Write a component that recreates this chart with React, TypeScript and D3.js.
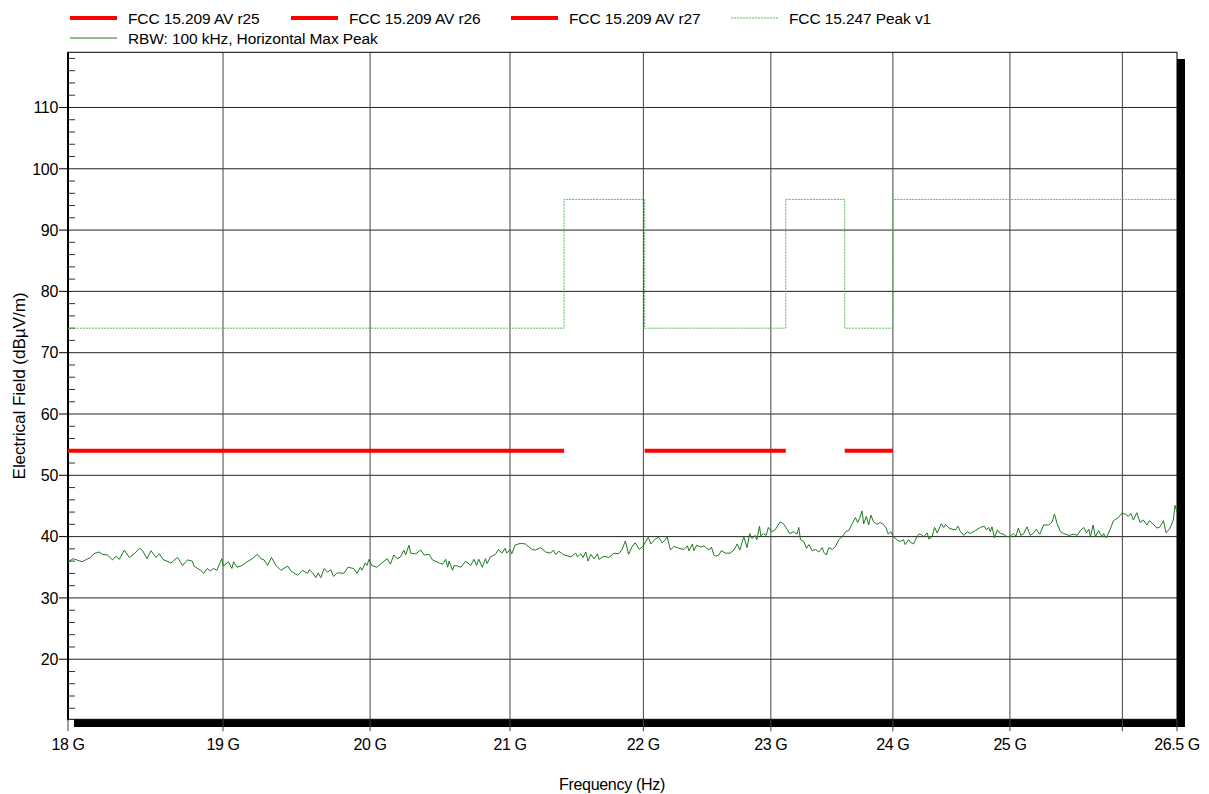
import React from "react";
import * as d3 from "d3";

// ---- Data ----
const traceFreqGHz = [
  18.002, 18.032, 18.088, 18.142, 18.163, 18.195, 18.217, 18.25, 18.282, 18.303, 18.325, 18.357, 18.389, 18.421, 18.454, 18.475, 18.503, 18.529, 18.561, 18.583, 18.605, 18.658, 18.701, 18.734, 18.766, 18.798, 18.808, 18.852, 18.873, 18.895, 18.916, 18.937, 18.959, 18.992,
  19.002, 19.036, 19.059, 19.07, 19.093, 19.127, 19.161, 19.195, 19.229, 19.252, 19.274, 19.297, 19.324, 19.354, 19.387, 19.433, 19.455, 19.501, 19.535, 19.569, 19.58, 19.603, 19.625, 19.641, 19.659, 19.682, 19.705, 19.728, 19.746, 19.773, 19.818, 19.846, 19.886, 19.909, 19.932, 19.943, 19.966, 19.978, 19.993,
  20.011, 20.047, 20.083, 20.119, 20.142, 20.166, 20.19, 20.214, 20.237, 20.249, 20.273, 20.285, 20.321, 20.357, 20.38, 20.416, 20.44, 20.488, 20.512, 20.535, 20.548, 20.559, 20.583, 20.595, 20.619, 20.643, 20.678, 20.714, 20.738, 20.757, 20.773, 20.798, 20.821, 20.833, 20.857, 20.893, 20.916, 20.941, 20.964, 20.976,
  21.0, 21.013, 21.037, 21.075, 21.112, 21.163, 21.187, 21.225, 21.262, 21.3, 21.32, 21.337, 21.362, 21.4, 21.45, 21.487, 21.5, 21.525, 21.542, 21.562, 21.58, 21.6, 21.625, 21.65, 21.662, 21.7, 21.737, 21.775, 21.812, 21.837, 21.862, 21.887, 21.912, 21.937, 21.969, 21.999,
  22.038, 22.057, 22.091, 22.117, 22.144, 22.169, 22.183, 22.209, 22.235, 22.274, 22.313, 22.34, 22.352, 22.379, 22.391, 22.413, 22.444, 22.47, 22.509, 22.528, 22.548, 22.562, 22.587, 22.606, 22.64, 22.674, 22.705, 22.732, 22.752, 22.784, 22.81, 22.831, 22.849, 22.875, 22.888, 22.909, 22.92, 22.94, 22.962, 22.98,
  23.007, 23.034, 23.075, 23.102, 23.13, 23.151, 23.184, 23.211, 23.225, 23.239, 23.266, 23.288, 23.307, 23.334, 23.361, 23.389, 23.416, 23.43, 23.449, 23.47, 23.498, 23.525, 23.552, 23.58, 23.607, 23.634, 23.662, 23.689, 23.707, 23.724, 23.743, 23.757, 23.779, 23.798, 23.817, 23.839, 23.867, 23.894, 23.921, 23.943, 23.962, 23.982,
  24.003, 24.032, 24.061, 24.089, 24.103, 24.132, 24.146, 24.174, 24.203, 24.217, 24.231, 24.26, 24.289, 24.303, 24.331, 24.351, 24.374, 24.408, 24.43, 24.445, 24.473, 24.502, 24.53, 24.55, 24.573, 24.601, 24.63, 24.658, 24.701, 24.744, 24.778, 24.795, 24.815, 24.829, 24.844, 24.866, 24.892, 24.915, 24.943, 24.972,
  25.0, 25.029, 25.053, 25.074, 25.095, 25.118, 25.149, 25.178, 25.207, 25.231, 25.261, 25.296, 25.341, 25.371, 25.391, 25.415, 25.445, 25.474, 25.519, 25.563, 25.593, 25.623, 25.652, 25.676, 25.697, 25.712, 25.736, 25.756, 25.786, 25.816, 25.83, 25.854, 25.89, 25.919, 25.964, 25.994,
  26.024, 26.054, 26.076, 26.1, 26.131, 26.161, 26.191, 26.223, 26.246, 26.277, 26.314, 26.338, 26.36, 26.375, 26.399, 26.436, 26.466, 26.482, 26.5,
];
const traceLevel = [
  35.9, 36.4, 35.9, 36.6, 37.2, 37.5, 37.1, 37.0, 36.2, 36.8, 36.3, 37.8, 36.6, 37.2, 38.1, 37.7, 36.4, 37.7, 36.6, 37.2, 36.3, 35.7, 36.6, 35.3, 36.2, 36.0, 35.2, 34.5, 34.0, 34.8, 34.4, 34.8, 34.5, 36.4,
  35.2, 35.9, 34.8, 35.9, 35.0, 35.3, 35.9, 36.4, 37.1, 36.4, 36.2, 35.3, 36.6, 35.3, 34.5, 35.2, 34.4, 33.7, 34.5, 34.0, 34.6, 34.1, 33.3, 34.1, 33.3, 34.8, 34.2, 34.6, 33.5, 34.1, 34.0, 35.0, 34.8, 34.0, 35.0, 34.5, 35.7, 35.3, 36.3,
  35.3, 35.0, 35.7, 36.4, 35.5, 37.0, 36.4, 36.7, 37.8, 37.0, 38.6, 37.3, 37.2, 37.8, 37.0, 37.1, 36.2, 35.7, 35.5, 36.3, 35.0, 36.0, 34.5, 35.3, 35.2, 35.0, 36.0, 35.3, 36.3, 35.3, 36.3, 35.0, 36.4, 35.6, 36.7, 37.1, 37.9, 37.3, 38.1, 37.3,
  37.9, 37.2, 38.6, 38.9, 38.8, 37.9, 37.8, 38.2, 37.5, 37.3, 37.8, 37.1, 37.6, 37.0, 36.7, 37.3, 36.7, 37.2, 36.6, 37.5, 36.0, 37.1, 36.4, 37.2, 36.3, 36.8, 36.6, 37.3, 37.2, 37.9, 39.3, 37.1, 38.3, 39.0, 37.9, 38.5,
  39.9, 38.8, 39.6, 39.9, 39.0, 39.5, 40.0, 37.8, 38.4, 38.1, 37.9, 38.5, 37.7, 38.8, 37.7, 38.6, 38.3, 38.5, 37.8, 38.3, 37.0, 36.8, 37.0, 37.7, 37.3, 37.3, 37.8, 38.8, 37.8, 40.0, 38.2, 40.5, 39.7, 40.2, 39.5, 41.7, 40.1, 40.5, 40.2, 41.5,
  40.8, 41.1, 42.4, 42.1, 41.2, 40.5, 40.8, 40.4, 41.5, 39.5, 39.2, 38.1, 38.7, 37.7, 37.9, 37.5, 38.2, 37.4, 37.0, 38.2, 37.9, 38.4, 39.5, 40.0, 40.8, 41.0, 42.1, 43.1, 42.3, 43.0, 44.2, 42.1, 43.3, 41.9, 43.5, 42.4, 42.0, 42.3, 42.0, 41.4, 40.4, 40.8,
  40.0, 39.5, 39.2, 39.5, 38.7, 39.5, 39.1, 38.8, 40.0, 40.4, 40.4, 40.0, 40.6, 39.6, 40.0, 41.5, 40.6, 42.1, 41.5, 42.0, 41.4, 41.2, 41.1, 41.7, 40.8, 40.2, 40.8, 40.5, 41.0, 41.5, 41.7, 41.1, 41.5, 40.8, 41.6, 39.8, 41.1, 40.5, 40.4, 40.0,
  40.0, 40.5, 40.1, 41.4, 40.2, 40.4, 41.6, 40.2, 40.6, 41.2, 40.4, 41.9, 41.9, 42.4, 43.7, 42.1, 40.8, 40.5, 40.2, 40.4, 40.2, 41.0, 41.5, 40.6, 41.2, 40.0, 41.9, 40.0, 41.0, 39.9, 40.5, 39.8, 41.2, 42.6, 43.1, 43.8,
  43.7, 43.3, 43.8, 42.7, 43.9, 42.3, 42.7, 41.9, 42.6, 42.1, 41.4, 41.5, 42.1, 42.6, 40.6, 41.4, 42.7, 45.1, 44.0,
];

// FCC 15.209 AV limit segments (GHz, dBµV/m)
const avR25Freq = [18, 21.4];
const avR26Freq = [22.01, 23.12];
const avR27Freq = [23.6, 24.0];
const avLimitLevel = 54;

// FCC 15.247 Peak limit (step after)
const peakFreq = [18, 21.4, 22.01, 23.12, 23.6, 24.0, 26.5];
const peakLevel = [74, 95, 74, 95, 74, 95, 95];

const xTickValues = [18, 19, 20, 21, 22, 23, 24, 25, 26, 26.5];
const xTickLabels = ["18 G", "19 G", "20 G", "21 G", "22 G", "23 G", "24 G", "25 G", "", "26.5 G"];
const yTickValues = [20, 30, 40, 50, 60, 70, 80, 90, 100, 110];

const legendLabels = [
  "FCC 15.209 AV r25",
  "FCC 15.209 AV r26",
  "FCC 15.209 AV r27",
  "FCC 15.247 Peak v1",
  "RBW: 100 kHz, Horizontal Max Peak",
];

// ---- Layout ----
const W = 1209;
const H = 794;
const X0 = 68;
const X1 = 1177;
const Y0 = 52.3;
const Y1 = 719.3;
const FONT = "Arial, 'Liberation Sans', Helvetica, sans-serif";
const RED = "#ff0000";
const TRACE = "#1f7a1f";
const PEAK = "#5cbc5c";

export default function App() {
  const x = d3.scaleLog().domain([18, 26.5]).range([X0, X1]);
  const y = d3.scaleLinear().domain([10.2, 119]).range([Y1, Y0]);

  const tracePts: [number, number][] = traceFreqGHz.map((f, i) => [f, traceLevel[i]]);
  const line = d3
    .line<[number, number]>()
    .x((d) => x(d[0]))
    .y((d) => y(d[1]));
  const stepLine = d3
    .line<[number, number]>()
    .x((d) => x(d[0]))
    .y((d) => y(d[1]))
    .curve(d3.curveStepAfter);
  const peakPts: [number, number][] = peakFreq.map((f, i) => [f, peakLevel[i]]);
  const avSegs = [avR25Freq, avR26Freq, avR27Freq].map(
    (s) => s.map((f) => [f, avLimitLevel]) as [number, number][]
  );
  const minorTicks = d3.range(12, 119, 2).filter((v) => v % 10 !== 0);

  const legendItems = [
    { x: 70, y: 18, color: RED, w: 4, dash: undefined, label: legendLabels[0] },
    { x: 291, y: 18, color: RED, w: 4, dash: undefined, label: legendLabels[1] },
    { x: 511, y: 18, color: RED, w: 4, dash: undefined, label: legendLabels[2] },
    { x: 731, y: 18, color: PEAK, w: 1, dash: "2,1", label: legendLabels[3] },
    { x: 70, y: 38, color: TRACE, w: 1, dash: undefined, label: legendLabels[4] },
  ];

  return (
    <svg
      width={W}
      height={H}
      style={{ position: "absolute", left: 0, top: 0, background: "#fff" }}
      fontFamily={FONT}
    >
      <defs>
        <clipPath id="plotClip">
          <rect x={X0} y={Y0} width={X1 - X0} height={Y1 - Y0} />
        </clipPath>
      </defs>
      {/* legend */}
      {legendItems.map((d, i) => (
        <g key={i}>
          <line
            x1={d.x}
            x2={d.x + 47}
            y1={d.y}
            y2={d.y}
            stroke={d.color}
            strokeWidth={d.w}
            strokeDasharray={d.dash}
          />
          <text x={d.x + 58} y={d.y + 5.5} fontSize={15.5} fill="#000" letterSpacing={-0.1}>
            {d.label}
          </text>
        </g>
      ))}

      {/* shadow and frame */}
      <rect x={74} y={59} width={1185 - 74} height={727 - 59} fill="#000" />
      <rect x={X0} y={Y0} width={X1 - X0} height={Y1 - Y0} fill="#fff" />

      {/* grid */}
      {yTickValues.map((v) => (
        <line key={"hg" + v} x1={X0} x2={X1} y1={y(v)} y2={y(v)} stroke="#222" strokeWidth={1} />
      ))}
      {xTickValues.slice(1, -1).map((v) => (
        <line key={"vg" + v} x1={x(v)} x2={x(v)} y1={Y0} y2={Y1} stroke="#444" strokeWidth={1} />
      ))}

      {/* frame stroke */}
      <rect x={X0} y={Y0} width={X1 - X0} height={Y1 - Y0} fill="none" stroke="#000" strokeWidth={1} />
      <line x1={X0} x2={X0} y1={Y0} y2={Y1 + 1} stroke="#000" strokeWidth={2} />

      {/* y minor ticks */}
      {minorTicks.map((v) => (
        <line key={"mt" + v} x1={X0} x2={X0 + 7} y1={y(v)} y2={y(v)} stroke="#333" strokeWidth={1} />
      ))}
      {/* y major ticks and labels */}
      {yTickValues.map((v) => (
        <g key={"yt" + v}>
          <line x1={X0 - 9} x2={X0} y1={y(v)} y2={y(v)} stroke="#000" strokeWidth={1} />
          <text x={X0 - 10} y={y(v)} dy="0.36em" textAnchor="end" fontSize={16} fill="#000" letterSpacing={-0.3}>
            {v}
          </text>
        </g>
      ))}
      {/* x ticks and labels */}
      {xTickValues.map((v, i) => (
        <g key={"xt" + v}>
          <line x1={x(v)} x2={x(v)} y1={Y1} y2={Y1 + 12} stroke="#444" strokeWidth={1} />
          <text x={x(v)} y={749.5} textAnchor="middle" fontSize={16} fill="#000" letterSpacing={-0.4}>
            {xTickLabels[i]}
          </text>
        </g>
      ))}

      {/* data */}
      <g clipPath="url(#plotClip)">
        <path d={stepLine(peakPts) || ""} fill="none" stroke={PEAK} strokeWidth={1} strokeDasharray="2,1" />
        {avSegs.map((s, i) => (
          <path key={"av" + i} d={line(s) || ""} fill="none" stroke={RED} strokeWidth={4} />
        ))}
        <path d={line(tracePts) || ""} fill="none" stroke={TRACE} strokeWidth={1} strokeLinejoin="round" />
      </g>

      {/* axis titles */}
      <text x={612} y={790} textAnchor="middle" fontSize={16} fill="#000" letterSpacing={-0.3}>
        Frequency (Hz)
      </text>
      <text
        transform={`translate(25,386) rotate(-90)`}
        textAnchor="middle"
        fontSize={17.2}
        fill="#000"
        letterSpacing={-0.1}
      >
        Electrical Field (dBµV/m)
      </text>
    </svg>
  );
}
